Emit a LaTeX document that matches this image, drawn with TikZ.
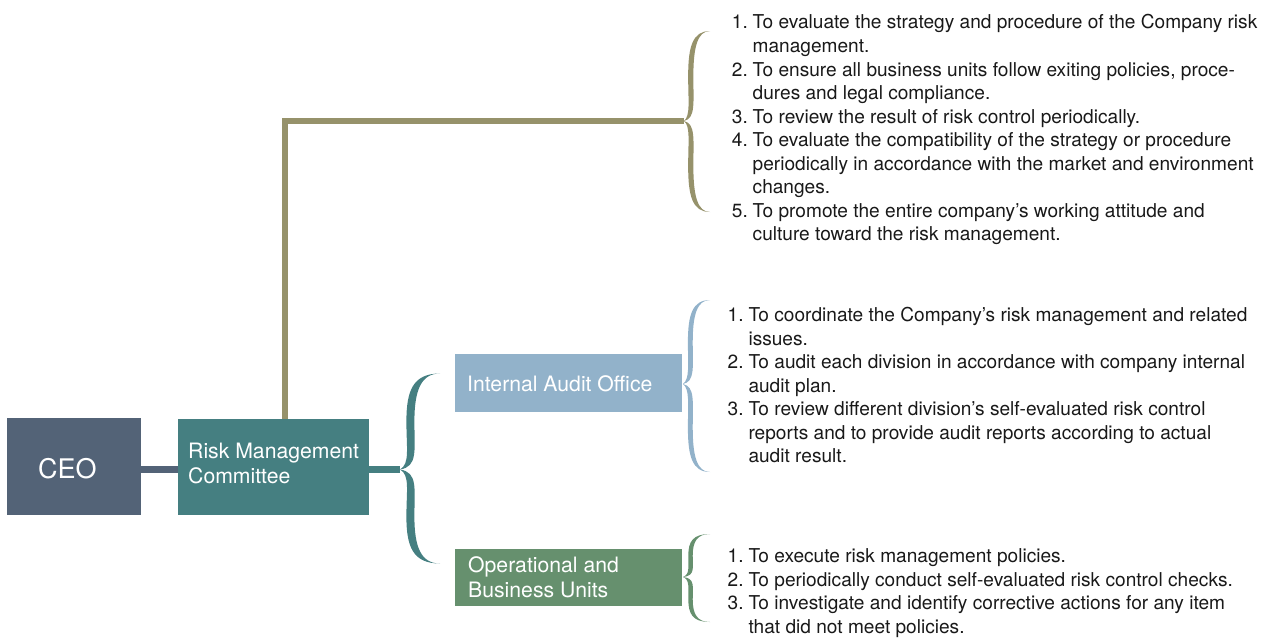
\documentclass[tikz,border=0pt]{standalone}
\usepackage{fontspec}
\setmainfont{TeX Gyre Heros}
\definecolor{ceoC}{RGB}{83,99,119}
\definecolor{tealC}{RGB}{69,127,129}
\definecolor{oliveC}{RGB}{150,146,107}
\definecolor{blueC}{RGB}{146,178,202}
\definecolor{greenC}{RGB}{102,144,110}
\definecolor{txtC}{RGB}{25,25,25}
\newlength{\lblw}\setlength{\lblw}{20.8pt}
\newcommand{\itm}[1]{\makebox[\lblw][l]{#1}}
\newcommand{\cnt}{\hspace*{\lblw}}
% calligraphic brace: colour, tip x, tip y, upper arm length, lower arm length, width, stroke
\newcommand{\calbrace}[7]{%
  \foreach \dd in {#4,#5}{%
  \fill[#1] (#2,#3)
    .. controls ({#2+0.45*#6},{#3+0.03*(\dd)}) and ({#2+0.36*#6},{#3+0.2*(\dd)})
    .. ({#2+0.36*#6},{#3+0.5*(\dd)})
    .. controls ({#2+0.36*#6},{#3+0.82*(\dd)}) and ({#2+0.52*#6},{#3+(\dd)})
    .. ({#2+#6},{#3+(\dd)})
    .. controls ({#2+0.52*#6-#7},{#3+(\dd)}) and ({#2+0.36*#6-#7},{#3+0.82*(\dd)})
    .. ({#2+0.36*#6-#7},{#3+0.5*(\dd)})
    .. controls ({#2+0.36*#6-#7},{#3+0.22*(\dd)}) and ({#2+0.25*#6},{#3+0.06*(\dd)})
    .. (#2,#3) -- cycle;}}
\begin{document}
\begin{tikzpicture}[x=1pt,y=-1pt,
  box/.style={rectangle,inner sep=0pt,anchor=north west},
  boxtext/.style={inner sep=0pt,text=white,align=left,font=\fontsize{21.2}{25}\selectfont},
  listtext/.style={inner sep=0pt,anchor=north west,align=left,text=txtC,
    font=\fontsize{19.1}{23.55}\selectfont},
  link/.style={line width=#1}]
\useasboundingbox (0,0) rectangle (1271,637);

% boxes
\node[box,fill=ceoC,minimum width=134pt,minimum height=97pt] (ceo) at (7,418) {};
\node[box,fill=tealC,minimum width=191pt,minimum height=96pt] (rmc) at (178,419) {};
\node[box,fill=blueC,minimum width=227pt,minimum height=58pt] (iao) at (455,354) {};
\node[box,fill=greenC,minimum width=227pt,minimum height=57pt] (obu) at (455,549) {};

% box labels
\node[boxtext,font=\fontsize{27}{30}\selectfont,anchor=west] (ceoT) at ([xshift=31pt,yshift=-1.5pt]ceo.west) {CEO};
\node[boxtext,anchor=north west] (rmcT) at ([xshift=10pt,yshift=-22pt]rmc.north west) {\strut Risk Management\\Committee};
\node[boxtext,anchor=west] (iaoT) at ([xshift=12pt,yshift=-1pt]iao.west) {Internal Audit Office};
\node[boxtext,anchor=north west] (obuT) at ([xshift=13pt,yshift=-6pt]obu.north west) {\strut Operational and\\Business Units};

% brace tips
\coordinate (oliveTip) at (684,121);
\coordinate (tealTip) at (400,469.5);

% connectors
\draw[ceoC,link=7pt] ([yshift=-3pt]ceo.east) -- ([yshift=-3pt]ceo.east -| rmc.west);
\draw[tealC,link=6.5pt] (rmc.east |- tealTip) -- (tealTip);
\draw[oliveC,link=6.5pt] ([xshift=11.5pt]rmc.north) |- (oliveTip);

% braces
\calbrace{oliveC}{684}{121}{-90}{91}{26}{5.2}
\calbrace{tealC}{400}{469.5}{-96}{94}{40}{8}
\calbrace{blueC}{683}{384}{-84}{88}{27}{4.8}
\calbrace{greenC}{683}{577}{-43}{45}{27}{4.4}

% duty lists
\node[listtext] (dutyRMC) at (731.7,12.3) {\strut
\itm{1.}To evaluate the strategy and procedure of the Company risk\\
\cnt management.\\
\itm{2.}To ensure all business units follow exiting policies, proce-\\
\cnt dures and legal compliance.\\
\itm{3.}To review the result of risk control periodically.\\
\itm{4.}To evaluate the compatibility of the strategy or procedure\\
\cnt periodically in accordance with the market and environment\\
\cnt changes.\\
\itm{5.}To promote the entire company’s working attitude and\\
\cnt culture toward the risk management.};

\node[listtext] (dutyIAO) at (727.5,305) {\strut
\itm{1.}To coordinate the Company’s risk management and related\\
\cnt issues.\\
\itm{2.}To audit each division in accordance with company internal\\
\cnt audit plan.\\
\itm{3.}To review different division’s self-evaluated risk control\\
\cnt reports and to provide audit reports according to actual\\
\cnt audit result.};

\node[listtext] (dutyOBU) at (727.5,546.2) {\strut
\itm{1.}To execute risk management policies.\\
\itm{2.}To periodically conduct self-evaluated risk control checks.\\
\itm{3.}To investigate and identify corrective actions for any item\\
\cnt that did not meet policies.};
\end{tikzpicture}
\end{document}
